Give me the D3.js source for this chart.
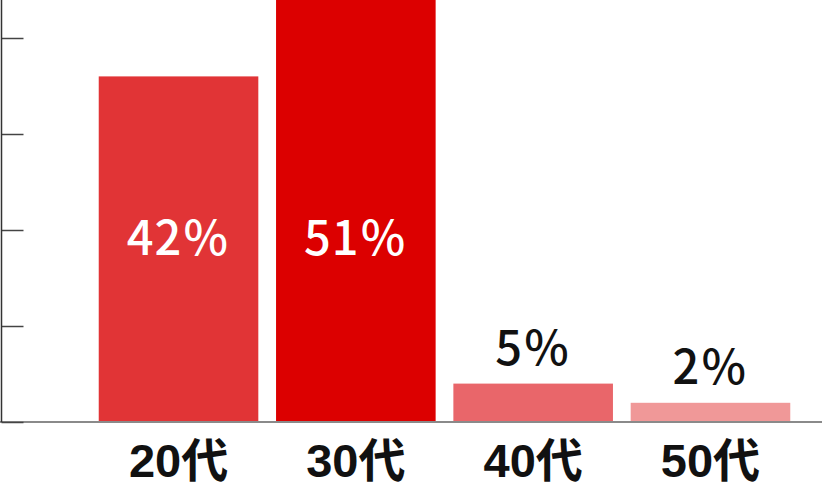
<!DOCTYPE html>
<html>
<head>
<meta charset="utf-8">
<script src="https://cdn.jsdelivr.net/npm/d3@7"></script>
<style>
  html, body { margin: 0; padding: 0; background: #fff; }
  svg { display: block; }
</style>
</head>
<body>
<div id="chart"></div>
<script>
// Age groups and respondent counts (labels show share of total)
const categories = ['20代', '30代', '40代', '50代'];
const counts = [36, 44, 4, 2];
const shareLabels = ['42％', '51％', '5％', '2％'];
const barColors = ['#e13436', '#dc0000', '#e9666a', '#f09898'];
const yTickValues = [0, 10, 20, 30, 40];

const width = 822;
const height = 488;
const baseY = 422;

const svg = d3.select('#chart')
  .append('svg')
  .attr('width', width)
  .attr('height', height);

// Scales
const x = d3.scaleBand()
  .domain(categories)
  .range([81, 808])
  .paddingInner(0.1)
  .paddingOuter(0.1);

const y = d3.scaleLinear()
  .domain([0, 10])
  .range([baseY, baseY - 96]);

// Bars
svg.selectAll('.bar')
  .data(categories)
  .enter().append('rect')
  .attr('class', 'bar')
  .attr('x', d => x(d))
  .attr('width', x.bandwidth())
  .attr('y', (d, i) => Math.max(0, y(counts[i])))
  .attr('height', (d, i) => baseY - Math.max(0, y(counts[i])))
  .style('fill', (d, i) => barColors[i]);

// Baseline
svg.append('line')
  .attr('x1', 0).attr('x2', width)
  .attr('y1', baseY).attr('y2', baseY)
  .style('stroke', '#8a8a8a')
  .style('stroke-width', 2);

// Left axis with ticks
const yAxis = d3.axisLeft(y)
  .tickValues(yTickValues)
  .tickSize(-22)
  .tickFormat('');

const axisG = svg.append('g')
  .attr('transform', 'translate(1.5,0)')
  .call(yAxis);
axisG.select('.domain').remove();
axisG.selectAll('.tick line')
  .style('stroke', '#444')
  .style('stroke-width', 1.5);
axisG.append('line')
  .attr('x1', 0).attr('x2', 0)
  .attr('y1', 0).attr('y2', baseY)
  .style('stroke', '#333')
  .style('stroke-width', 1.5);

// Category labels
svg.selectAll('.cat')
  .data(categories)
  .enter().append('text')
  .attr('class', 'cat')
  .attr('x', d => x(d) + x.bandwidth() / 2)
  .attr('y', 477)
  .style('text-anchor', 'middle')
  .style('font-family', '"Liberation Sans", "Noto Sans CJK JP", sans-serif')
  .style('font-weight', '700')
  .style('font-size', '47px')
  .style('fill', '#111')
  .text(d => d);

// Share labels: inside tall bars, above short ones
svg.selectAll('.share')
  .data(categories)
  .enter().append('text')
  .attr('class', 'share')
  .attr('x', d => x(d) + x.bandwidth() / 2)
  .attr('y', (d, i) => counts[i] > 10 ? 255 : y(counts[i]) - 19)
  .style('text-anchor', 'middle')
  .style('font-family', '"Noto Sans CJK JP", sans-serif')
  .style('font-weight', '500')
  .style('font-size', '47px')
  .style('letter-spacing', '1px')
  .style('fill', (d, i) => counts[i] > 10 ? '#fff' : '#111')
  .text((d, i) => shareLabels[i]);
</script>
</body>
</html>
